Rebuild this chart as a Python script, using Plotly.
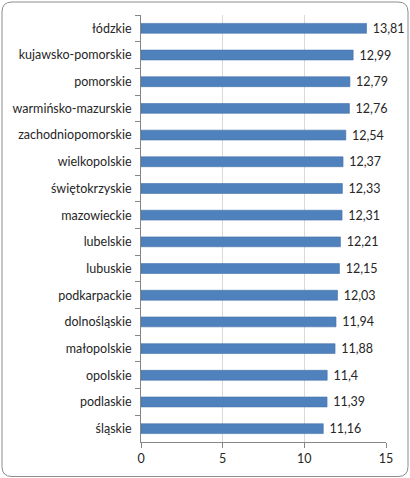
import plotly.graph_objects as go

regions = ["łódzkie", "kujawsko-pomorskie", "pomorskie", "warmińsko-mazurskie",
           "zachodniopomorskie", "wielkopolskie", "świętokrzyskie", "mazowieckie",
           "lubelskie", "lubuskie", "podkarpackie", "dolnośląskie", "małopolskie",
           "opolskie", "podlaskie", "śląskie"]
values = [13.81, 12.99, 12.79, 12.76, 12.54, 12.37, 12.33, 12.31,
          12.21, 12.15, 12.03, 11.94, 11.88, 11.4, 11.39, 11.16]
x_ticks = [0, 5, 10, 15]

labels = [f"{v:g}".replace(".", ",") for v in values]

W, H = 410, 478
ML, MR, MT, MB = 141, 24, 15, 36
pw, ph = W - ML - MR, H - MT - MB

def px_to_paper(x, y):
    return (x - ML) / pw, (H - MB - y) / ph

# rounded border around whole chart (pixel geometry -> paper coords)
x0, y0, x1, y1, r = 2, 2, 408, 476.5, 10
def P(x, y):
    a, b = px_to_paper(x, y)
    return f"{a:.5f},{b:.5f}"
path = (f"M {P(x0 + r, y0)} L {P(x1 - r, y0)} Q {P(x1, y0)} {P(x1, y0 + r)} "
        f"L {P(x1, y1 - r)} Q {P(x1, y1)} {P(x1 - r, y1)} "
        f"L {P(x0 + r, y1)} Q {P(x0, y1)} {P(x0, y1 - r)} "
        f"L {P(x0, y0 + r)} Q {P(x0, y0)} {P(x0 + r, y0)} Z")

fig = go.Figure(go.Bar(
    x=values, y=regions, orientation="h",
    marker=dict(color="#4F81BD", line=dict(color="#4372AA", width=0.6)),
    width=0.37,
    text=labels, texttemplate="\u00a0%{text}", textposition="outside",
    cliponaxis=False, constraintext="none",
    textfont=dict(family="Lato", size=12.5, color="#262626"),
))

fig.update_layout(
    width=W, height=H,
    margin=dict(l=ML, r=MR, t=MT, b=MB, pad=0),
    paper_bgcolor="white", plot_bgcolor="white",
    showlegend=False,
    font=dict(family="Lato", size=12.5, color="#262626"),
    xaxis=dict(range=[0, 15], tickvals=x_ticks, ticktext=[str(t) for t in x_ticks],
               showgrid=True, gridcolor="#D9D9D9", gridwidth=1,
               showline=True, linecolor="#868686", linewidth=1,
               ticks="outside", ticklen=5, tickcolor="#868686",
               zeroline=False, fixedrange=True),
    yaxis=dict(autorange="reversed", showgrid=False,
               showline=True, linecolor="#868686", linewidth=1,
               ticks="outside", ticklen=5, tickcolor="#868686",
               tickson="boundaries", ticklabelstandoff=6, fixedrange=True),
    shapes=[dict(type="path", xref="paper", yref="paper", path=path,
                 line=dict(color="#8C8C8C", width=1), layer="below")],
)

fig.write_html("out.html", config={"displayModeBar": False},
               post_script="document.body.style.margin='0';")
